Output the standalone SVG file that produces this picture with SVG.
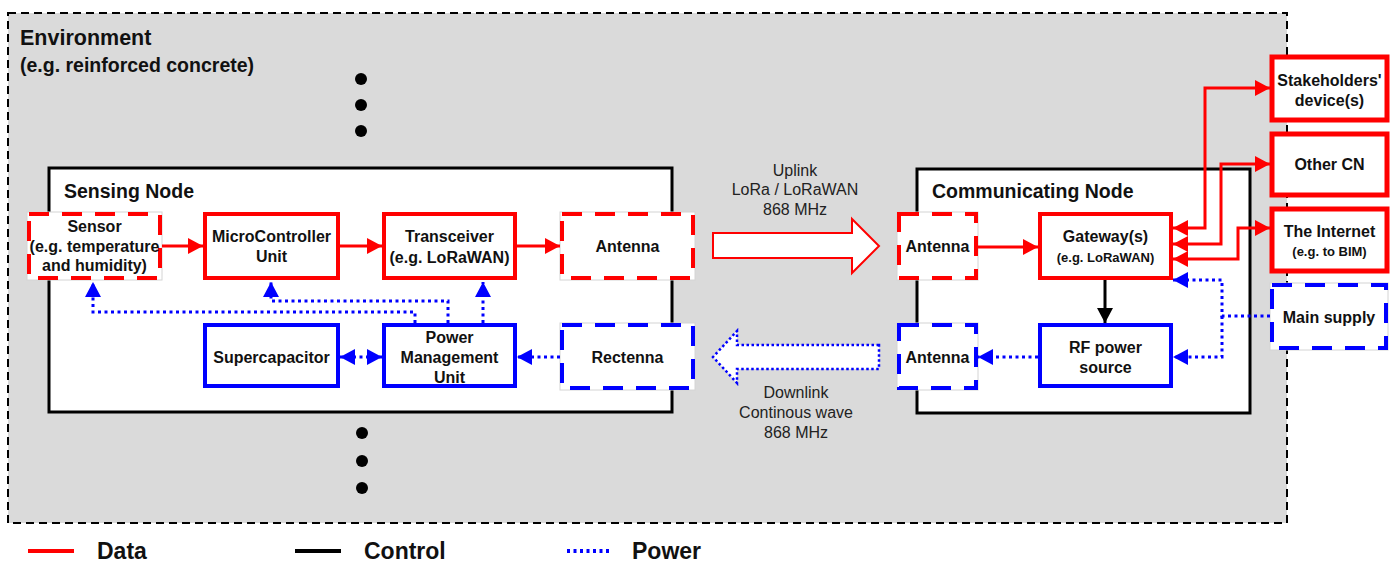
<svg xmlns="http://www.w3.org/2000/svg" width="1399" height="563" viewBox="0 0 1399 563">
<style>
  text { font-family: "Liberation Sans", Arial, Helvetica, sans-serif; fill: #111; }
  .b { font-weight: bold; }
  .t { font-size: 16px; font-weight: bold; text-anchor: middle; }
  .s { font-size: 13px; font-weight: bold; text-anchor: middle; }
  .h { font-size: 19.5px; font-weight: bold; }
  .lbl { font-size: 16px; text-anchor: middle; fill: #222; }
  .leg { font-size: 23px; font-weight: bold; }
  .bg { fill: #fff; stroke: #d4d4d4; stroke-width: 1; }
  .rs { fill: #fff; stroke: #ff0000; stroke-width: 4; }
  .rsx { fill: #fff; stroke: #ff0000; stroke-width: 5; }
  .bs { fill: #fff; stroke: #0000ff; stroke-width: 4; }
  .rd { fill: none; stroke: #ff0000; stroke-width: 4; stroke-dasharray: 20 13; }
  .bd { fill: none; stroke: #0000ff; stroke-width: 4; stroke-dasharray: 20 13; }
  .cont { fill: #fff; stroke: #000; stroke-width: 3; }
  .data { fill: none; stroke: #ff0000; stroke-width: 3; }
  .ctrl { fill: none; stroke: #000; stroke-width: 3; }
  .pow { fill: none; stroke: #0000ff; stroke-width: 3; stroke-dasharray: 3 3.5; }
</style>
<defs>
  <marker id="ar" markerUnits="userSpaceOnUse" viewBox="0 0 15 16" refX="15" refY="8" markerWidth="15" markerHeight="16" orient="auto-start-reverse">
    <path d="M0,0 L15,8 L0,16 Z" fill="#ff0000"/>
  </marker>
  <marker id="ab" markerUnits="userSpaceOnUse" viewBox="0 0 15 16" refX="15" refY="8" markerWidth="15" markerHeight="16" orient="auto-start-reverse">
    <path d="M0,0 L15,8 L0,16 Z" fill="#0000ff"/>
  </marker>
  <marker id="ak" markerUnits="userSpaceOnUse" viewBox="0 0 15 16" refX="15" refY="8" markerWidth="15" markerHeight="16" orient="auto">
    <path d="M0,0 L15,8 L0,16 Z" fill="#000"/>
  </marker>
</defs>

<g id="environment">
  <rect x="8" y="13" width="1279" height="510" fill="#dadada" stroke="#000" stroke-width="2" stroke-dasharray="8 5"/>
  <text class="b" x="20" y="45" font-size="21.5">Environment</text>
  <text class="b" x="20" y="72" font-size="19.5">(e.g. reinforced concrete)</text>
  <circle cx="361" cy="79" r="6" fill="#000"/>
  <circle cx="361" cy="105" r="6" fill="#000"/>
  <circle cx="361" cy="131" r="6" fill="#000"/>
  <circle cx="362" cy="433" r="6" fill="#000"/>
  <circle cx="362" cy="461" r="6" fill="#000"/>
  <circle cx="362" cy="488" r="6" fill="#000"/>
</g>

<g id="sensing-node">
  <rect class="cont" x="49" y="168" width="623" height="244"/>
  <text class="h" x="64" y="198">Sensing Node</text>
</g>

<g id="communicating-node">
  <rect class="cont" x="917" y="169" width="333" height="244"/>
  <text class="h" x="932" y="198">Communicating Node</text>
</g>

<g id="sensor">
  <rect class="bg" x="27" y="212" width="135" height="68"/>
  <rect class="rd" x="29" y="214" width="131" height="64"/>
  <text class="t" x="94.5" y="232" font-size="15.5">Sensor</text>
  <text class="t" x="94.5" y="252" font-size="15.5">(e.g. temperature</text>
  <text class="t" x="94.5" y="271" font-size="15.5">and humidity)</text>
</g>

<g id="mcu">
  <rect class="rs" x="205" y="214" width="133" height="64"/>
  <text class="t" x="271.5" y="242">MicroController</text>
  <text class="t" x="271.5" y="262">Unit</text>
</g>

<g id="transceiver">
  <rect class="rs" x="384" y="214" width="131" height="64"/>
  <text class="t" x="449.5" y="242">Transceiver</text>
  <text class="t" x="449.5" y="263">(e.g. LoRaWAN)</text>
</g>

<g id="sn-antenna">
  <rect class="bg" x="560" y="212" width="135" height="68"/>
  <rect class="rd" x="562" y="214" width="131" height="64"/>
  <text class="t" x="627.5" y="252">Antenna</text>
</g>

<g id="supercapacitor">
  <rect class="bs" x="205" y="325" width="133" height="61"/>
  <text class="t" x="271.5" y="363">Supercapacitor</text>
</g>

<g id="pmu">
  <rect class="bs" x="384" y="325" width="131" height="61"/>
  <text class="t" x="449.5" y="343">Power</text>
  <text class="t" x="449.5" y="363">Management</text>
  <text class="t" x="449.5" y="383">Unit</text>
</g>

<g id="rectenna">
  <rect class="bg" x="560" y="323" width="135" height="67"/>
  <rect class="bd" x="562" y="325" width="131" height="63"/>
  <text class="t" x="627.5" y="363">Rectenna</text>
</g>

<g id="uplink">
  <path d="M713,233 H852 V219 L879,246 L852,273 V258 H713 Z" fill="#fff" stroke="#ff0000" stroke-width="2"/>
  <text class="lbl" x="795" y="176">Uplink</text>
  <text class="lbl" x="795" y="195">LoRa / LoRaWAN</text>
  <text class="lbl" x="795" y="215">868 MHz</text>
</g>

<g id="downlink">
  <path d="M879,345 H737 V331 L713,357 L737,383 V369 H879 Z" fill="#fff" stroke="#0000ff" stroke-width="2.5" stroke-dasharray="2.5 2.5"/>
  <text class="lbl" x="796" y="398">Downlink</text>
  <text class="lbl" x="796" y="418">Continous wave</text>
  <text class="lbl" x="796" y="438">868 MHz</text>
</g>

<g id="cn-antenna-data">
  <rect class="bg" x="897" y="212" width="81" height="68"/>
  <rect class="rd" x="899" y="214" width="77" height="64"/>
  <text class="t" x="937.5" y="252">Antenna</text>
</g>

<g id="gateway">
  <rect class="rs" x="1040" y="214" width="131" height="64"/>
  <text class="t" x="1105.5" y="242">Gateway(s)</text>
  <text class="s" x="1105.5" y="262">(e.g. LoRaWAN)</text>
</g>

<g id="rf-power-source">
  <rect class="bs" x="1040" y="325" width="131" height="61"/>
  <text class="t" x="1105.5" y="353">RF power</text>
  <text class="t" x="1105.5" y="373">source</text>
</g>

<g id="cn-antenna-power">
  <rect class="bg" x="897" y="323" width="81" height="67"/>
  <rect class="bd" x="899" y="325" width="77" height="63"/>
  <text class="t" x="937.5" y="363">Antenna</text>
</g>

<g id="stakeholders">
  <rect class="rsx" x="1272" y="57" width="115" height="63"/>
  <text class="t" x="1329.5" y="86" font-size="15.5">Stakeholders'</text>
  <text class="t" x="1329.5" y="106" font-size="15.5">device(s)</text>
</g>

<g id="other-cn">
  <rect class="rsx" x="1272" y="134" width="115" height="61"/>
  <text class="t" x="1329.5" y="170">Other CN</text>
</g>

<g id="internet">
  <rect class="rsx" x="1272" y="209" width="115" height="62"/>
  <text class="t" x="1329.5" y="237" font-size="15.5">The Internet</text>
  <text class="s" x="1329.5" y="256">(e.g. to BIM)</text>
</g>

<g id="main-supply">
  <rect class="bg" x="1270" y="283" width="118" height="67"/>
  <rect class="bd" x="1272" y="285" width="114" height="63"/>
  <text class="t" x="1329" y="323">Main supply</text>
</g>

<g id="connectors">
  <path class="data" d="M162,246 H203" marker-end="url(#ar)"/>
  <path class="data" d="M340,246 H382" marker-end="url(#ar)"/>
  <path class="data" d="M517,246 H560" marker-end="url(#ar)"/>
  <path class="pow" d="M415,323 V312 H93 V282" marker-end="url(#ab)"/>
  <path class="pow" d="M448,323 V301 H271 V282" marker-end="url(#ab)"/>
  <path class="pow" d="M483,323 V282" marker-end="url(#ab)"/>
  <path class="pow" d="M340,357 H382" marker-start="url(#ab)" marker-end="url(#ab)"/>
  <path class="pow" d="M560,357 H517" marker-end="url(#ab)"/>
  <path class="data" d="M978,247 H1038" marker-end="url(#ar)"/>
  <path class="ctrl" d="M1105,280 V323" marker-end="url(#ak)"/>
  <path class="pow" d="M1038,357 H978" marker-end="url(#ab)"/>
  <path class="pow" d="M1270,316 H1222 V280 H1173" marker-end="url(#ab)"/>
  <path class="pow" d="M1222,316 V357 H1173" marker-end="url(#ab)"/>
  <path class="data" d="M1173,228 H1205 V88 H1270" marker-start="url(#ar)" marker-end="url(#ar)"/>
  <path class="data" d="M1173,244 H1221 V164 H1270" marker-start="url(#ar)" marker-end="url(#ar)"/>
  <path class="data" d="M1173,259 H1238 V228 H1270" marker-start="url(#ar)" marker-end="url(#ar)"/>
</g>

<g id="legend">
  <line x1="28" y1="551" x2="74" y2="551" stroke="#ff0000" stroke-width="4"/>
  <text class="leg" x="97" y="559">Data</text>
  <line x1="295" y1="551" x2="341" y2="551" stroke="#000" stroke-width="4"/>
  <text class="leg" x="364" y="559">Control</text>
  <line x1="567" y1="551" x2="610" y2="551" stroke="#0000ff" stroke-width="4" stroke-dasharray="3 3.5"/>
  <text class="leg" x="632" y="559">Power</text>
</g>
</svg>
